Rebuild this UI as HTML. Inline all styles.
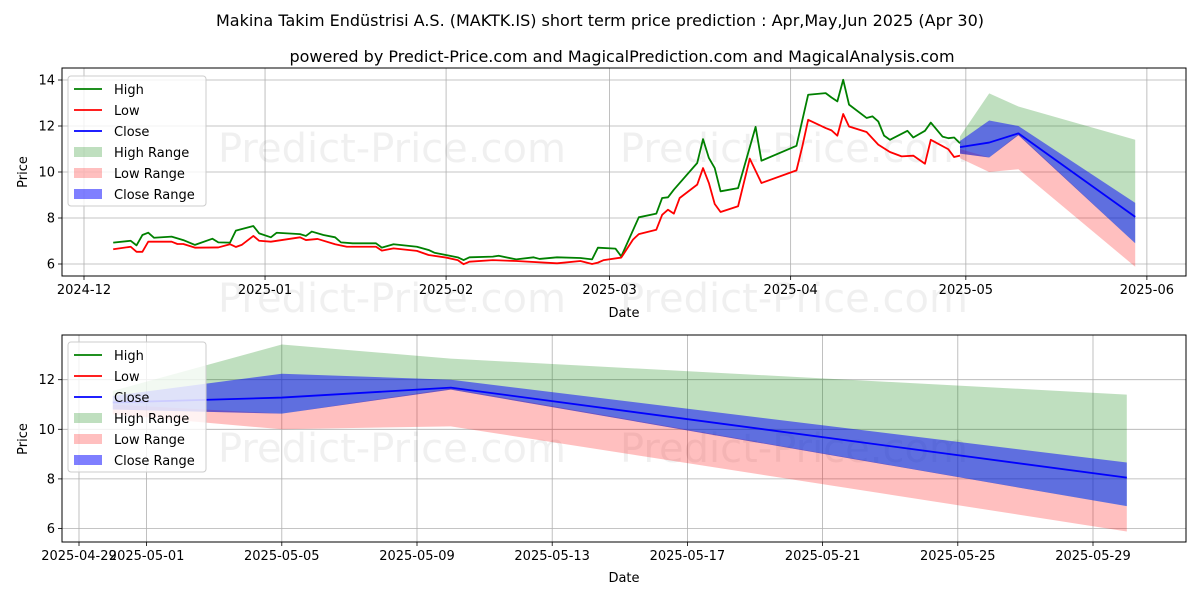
<!DOCTYPE html>
<html><head><meta charset="utf-8"><style>
body{margin:0;background:#fff;}
svg text{font-family:"DejaVu Sans","Liberation Sans",sans-serif;}
</style></head><body>
<svg id="c" width="1200" height="600" xmlns="http://www.w3.org/2000/svg"></svg>
<script>
// ---- data ----
const histHighDates=["2024-12-06","2024-12-09","2024-12-10","2024-12-11","2024-12-12","2024-12-13","2024-12-16","2024-12-18","2024-12-20","2024-12-23","2024-12-24","2024-12-26","2024-12-27","2024-12-30","2024-12-31","2025-01-02","2025-01-03","2025-01-07","2025-01-08","2025-01-09","2025-01-11","2025-01-13","2025-01-14","2025-01-16","2025-01-20","2025-01-21","2025-01-23","2025-01-27","2025-01-29","2025-01-30","2025-02-03","2025-02-04","2025-02-05","2025-02-09","2025-02-10","2025-02-13","2025-02-16","2025-02-17","2025-02-20","2025-02-24","2025-02-26","2025-02-27","2025-03-02","2025-03-03","2025-03-06","2025-03-09","2025-03-10","2025-03-11","2025-03-12","2025-03-16","2025-03-17","2025-03-18","2025-03-19","2025-03-20","2025-03-23","2025-03-26","2025-03-27","2025-04-02","2025-04-04","2025-04-07","2025-04-08","2025-04-09","2025-04-10","2025-04-11","2025-04-14","2025-04-15","2025-04-16","2025-04-17","2025-04-18","2025-04-21","2025-04-22","2025-04-24","2025-04-25","2025-04-27","2025-04-28","2025-04-29","2025-04-30"];
const histHigh=[6.93,7.01,6.81,7.26,7.36,7.14,7.19,7.04,6.83,7.10,6.94,6.93,7.45,7.65,7.33,7.16,7.36,7.30,7.22,7.41,7.26,7.16,6.94,6.90,6.90,6.71,6.86,6.75,6.61,6.49,6.29,6.17,6.29,6.32,6.36,6.20,6.29,6.22,6.29,6.26,6.20,6.71,6.67,6.33,8.03,8.19,8.87,8.90,9.23,10.39,11.43,10.61,10.17,9.16,9.30,11.96,10.49,11.14,13.36,13.43,13.24,13.07,14.01,12.93,12.35,12.42,12.20,11.58,11.40,11.79,11.50,11.79,12.15,11.54,11.47,11.50,11.25];
const histLowDates=["2024-12-06","2024-12-09","2024-12-10","2024-12-11","2024-12-12","2024-12-16","2024-12-17","2024-12-18","2024-12-20","2024-12-24","2024-12-26","2024-12-27","2024-12-28","2024-12-30","2024-12-31","2025-01-02","2025-01-07","2025-01-08","2025-01-10","2025-01-13","2025-01-15","2025-01-20","2025-01-21","2025-01-23","2025-01-27","2025-01-29","2025-02-01","2025-02-03","2025-02-04","2025-02-05","2025-02-09","2025-02-13","2025-02-20","2025-02-24","2025-02-26","2025-02-27","2025-02-28","2025-03-03","2025-03-05","2025-03-06","2025-03-09","2025-03-10","2025-03-11","2025-03-12","2025-03-13","2025-03-16","2025-03-17","2025-03-18","2025-03-19","2025-03-20","2025-03-23","2025-03-25","2025-03-27","2025-04-02","2025-04-03","2025-04-04","2025-04-07","2025-04-08","2025-04-09","2025-04-10","2025-04-11","2025-04-14","2025-04-16","2025-04-18","2025-04-20","2025-04-22","2025-04-24","2025-04-25","2025-04-28","2025-04-29","2025-04-30"];
const histLow=[6.64,6.75,6.53,6.53,6.97,6.97,6.87,6.87,6.71,6.72,6.86,6.74,6.83,7.22,7.01,6.97,7.16,7.04,7.09,6.86,6.75,6.75,6.58,6.68,6.57,6.39,6.28,6.17,5.99,6.10,6.17,6.13,6.03,6.13,6.00,6.06,6.17,6.28,7.06,7.30,7.49,8.14,8.36,8.19,8.87,9.45,10.17,9.52,8.61,8.26,8.51,10.58,9.52,10.07,11.11,12.27,11.91,11.81,11.58,12.52,11.98,11.74,11.19,10.87,10.68,10.71,10.36,11.40,10.99,10.65,10.71];
const fcDates=["2025-04-30","2025-05-05","2025-05-10","2025-05-30"];
const fcClose=[11.08,11.28,11.68,8.05];
const fcHighUp=[11.55,13.42,12.85,11.4];
const fcCloseUp=[11.35,12.24,12.0,8.66];
const fcCloseLo=[10.8,10.63,11.6,6.9];
const fcLowUp=[11.0,10.63,11.65,6.9];
const fcLowLo=[10.6,10.0,10.12,5.88];
const topYTicks=[6,8,10,12,14];
const topXTicks=["2024-12-01","2025-01-01","2025-02-01","2025-03-01","2025-04-01","2025-05-01","2025-06-01"];
const topXLabels=["2024-12","2025-01","2025-02","2025-03","2025-04","2025-05","2025-06"];
const botYTicks=[6,8,10,12];
const botXTicks=["2025-04-29","2025-05-01","2025-05-05","2025-05-09","2025-05-13","2025-05-17","2025-05-21","2025-05-25","2025-05-29"];

// ---- helpers ----
const NS="http://www.w3.org/2000/svg";
const svg=document.getElementById('c');
function mk(tag,attrs,parent,text){const e=document.createElementNS(NS,tag);for(const k in attrs)e.setAttribute(k,attrs[k]);if(text!==undefined)e.textContent=text;(parent||svg).appendChild(e);return e;}
const day=s=>Date.parse(s+"T00:00:00Z")/86400000;
const D0=day("2024-12-01"), B0=day("2025-04-29");
const tx=s=>84+(day(s)-D0)*5.84;
const ty=v=>264-(v-6)*23;
const bx=s=>79+(day(s)-B0)*33.8;
const by=v=>528.5-(v-6)*24.8;

function axes(name,L,T,R,B,xt,xl,xf,yt,yf){
  const g=mk('g',{});
  
  
  xt.forEach((d,i)=>{const x=xf(d);
    const gl=mk('line',{x1:x,x2:x,y1:T,y2:B,stroke:'#b0b0b0','stroke-width':0.8},g);
    
    mk('line',{x1:x,x2:x,y1:B,y2:B+4,stroke:'#000','stroke-width':0.8},g);
    const t=mk('text',{x:x,y:B+18,'font-size':13,'text-anchor':'middle'},g,xl[i]);
    });
  yt.forEach(v=>{const y=yf(v);
    const gl=mk('line',{x1:L,x2:R,y1:y,y2:y,stroke:'#b0b0b0','stroke-width':0.8},g);
    
    mk('line',{x1:L-4,x2:L,y1:y,y2:y,stroke:'#000','stroke-width':0.8},g);
    const t=mk('text',{x:L-7,y:y+4.5,'font-size':13,'text-anchor':'end'},g,String(v));
    });
  return g;
}
function wm(x,y){const t=mk('text',{x:x,y:y,'font-size':40,fill:'#000','fill-opacity':0.06},svg,'Predict-Price.com');
  }
function band(dates,up,lo,xf,yf,color,op,name){
  let d='M'+dates.map((s,i)=>xf(s)+','+yf(up[i])).join('L');
  for(let i=dates.length-1;i>=0;i--)d+='L'+xf(dates[i])+','+yf(lo[i]);
  const p=mk('path',{d:d+'Z',fill:color,'fill-opacity':op,stroke:'none'});
  }
function line(dates,vals,xf,yf,color,name){
  const p=mk('polyline',{points:dates.map((s,i)=>xf(s)+','+yf(vals[i])).join(' '),fill:'none',stroke:color,'stroke-width':1.8,'stroke-linejoin':'round'});
  }
function legend(x,y,name){
  const g=mk('g',{});
  
  mk('rect',{x:x,y:y,width:138,height:130,rx:3,fill:'#fff','fill-opacity':0.8,stroke:'#ccc'},g);
  const items=[['High','#008000','l'],['Low','#ff0000','l'],['Close','#0000ff','l'],['High Range','#008000','f',0.25],['Low Range','#ff0000','f',0.25],['Close Range','#0000ff','f',0.5]];
  items.forEach((it,i)=>{const cy=y+13+i*21;
    const e=mk('g',{},g);
    if(it[2]==='l')mk('line',{x1:x+6,x2:x+34,y1:cy,y2:cy,stroke:it[1],'stroke-width':1.8},e);
    else mk('rect',{x:x+6,y:cy-5,width:28,height:10,fill:it[1],'fill-opacity':it[3]},e);
    mk('text',{x:x+46,y:cy+5,'font-size':13},e,it[0]);});
}

// titles
let t=mk('text',{x:600,y:26,'font-size':16,'text-anchor':'middle'},svg,'Makina Takim Endüstrisi A.S. (MAKTK.IS) short term price prediction : Apr,May,Jun 2025 (Apr 30)');

t=mk('text',{x:622,y:62,'font-size':16,'text-anchor':'middle'},svg,'powered by Predict-Price.com and MagicalPrediction.com and MagicalAnalysis.com');


// ---- top chart ----
axes('top-axes',62,68,1186,276,topXTicks,topXLabels,tx,topYTicks,ty);
wm(218,162);wm(620,162);wm(218,312);wm(620,312);
band(fcDates,fcHighUp,fcCloseLo,tx,ty,'#008000',0.25,'top-high-range');
band(fcDates,fcLowUp,fcLowLo,tx,ty,'#ff0000',0.25,'top-low-range');
band(fcDates,fcCloseUp,fcCloseLo,tx,ty,'#0000ff',0.5,'top-close-range');
line(histHighDates,histHigh,tx,ty,'#008000','top-high-line');
line(histLowDates,histLow,tx,ty,'#ff0000','top-low-line');
line(fcDates,fcClose,tx,ty,'#0000ff','top-close-line');
mk('rect',{x:62,y:68,width:1124,height:208,fill:'none',stroke:'#000','stroke-width':1});
legend(68,76,'top-legend');
t=mk('text',{x:624,y:317,'font-size':13,'text-anchor':'middle'},svg,'Date');
t=mk('text',{x:27,y:172,'font-size':13,'text-anchor':'middle',transform:'rotate(-90 27 172)'},svg,'Price');

// ---- bottom chart ----
axes('bottom-axes',62,335,1186,542,botXTicks,botXTicks,bx,botYTicks,by);
wm(218,462);wm(620,462);
band(fcDates,fcHighUp,fcCloseLo,bx,by,'#008000',0.25,'bottom-high-range');
band(fcDates,fcLowUp,fcLowLo,bx,by,'#ff0000',0.25,'bottom-low-range');
band(fcDates,fcCloseUp,fcCloseLo,bx,by,'#0000ff',0.5,'bottom-close-range');
line(fcDates,fcClose,bx,by,'#0000ff','bottom-close-line');
mk('rect',{x:62,y:335,width:1124,height:207,fill:'none',stroke:'#000','stroke-width':1});
legend(68,342,'bottom-legend');
t=mk('text',{x:624,y:582,'font-size':13,'text-anchor':'middle'},svg,'Date');
t=mk('text',{x:27,y:439,'font-size':13,'text-anchor':'middle',transform:'rotate(-90 27 439)'},svg,'Price');
</script>
</body></html>
